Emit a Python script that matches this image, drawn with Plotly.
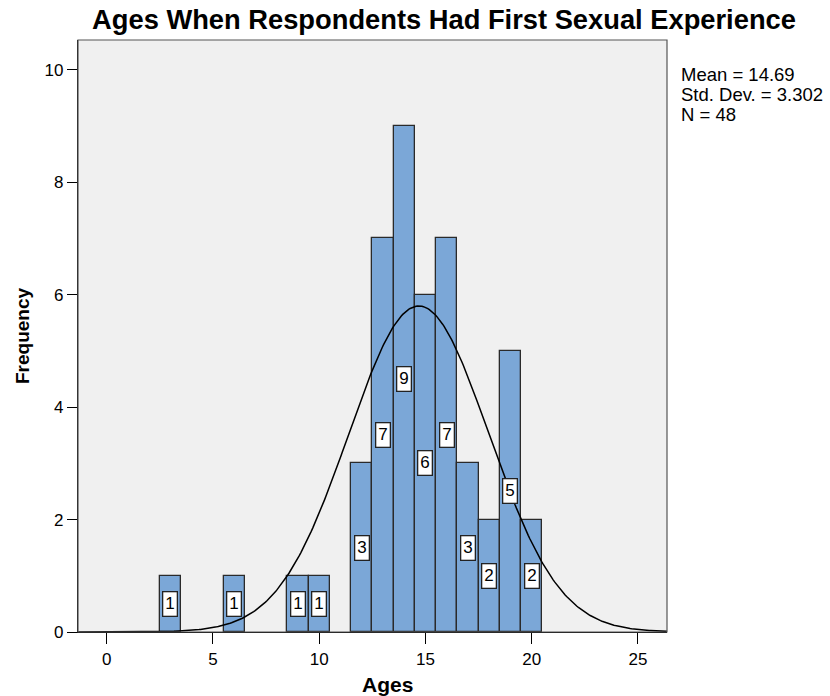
import numpy as np
import plotly.graph_objects as go

ages = [3, 6, 9, 10, 12, 13, 14, 15, 16, 17, 18, 19, 20]
counts = [1, 1, 1, 1, 3, 7, 9, 6, 7, 3, 2, 5, 2]
mean_age = 14.69
std_dev = 3.302
n_total = 48
x_ticks = [0, 5, 10, 15, 20, 25]
y_ticks = [0, 2, 4, 6, 8, 10]
stats_lines = [f"Mean = {mean_age}", f"Std. Dev. = {std_dev}", f"N = {n_total}"]

X0, X1 = -1.35, 26.37
Y0, Y1 = 0, 10.53
FONT = "Liberation Sans, Arial, Helvetica"

W, H = 830, 696
L, R, T, B = 78, 163, 40, 64
PW, PH = W - L - R, H - T - B

def px(xpage):
    return (xpage - L) / PW

def py(ypage):
    return (H - B - ypage) / PH

fig = go.Figure()
fig.add_trace(go.Bar(
    x=ages, y=counts, width=1,
    marker=dict(color="#7BA7D7", line=dict(color="#2a2a2a", width=1.3)),
    hoverinfo="skip", showlegend=False,
))

xc = np.linspace(X0, X1, 400)
yc = n_total * 1.0 / (std_dev * np.sqrt(2 * np.pi)) * np.exp(-0.5 * ((xc - mean_age) / std_dev) ** 2)
fig.add_trace(go.Scatter(x=xc, y=yc, mode="lines",
                         line=dict(color="black", width=1.5),
                         hoverinfo="skip", showlegend=False))

for a, c in zip(ages, counts):
    fig.add_annotation(x=a, y=c / 2, text=str(c), showarrow=False,
                       font=dict(family=FONT, size=17, color="black"),
                       bgcolor="white", bordercolor="#222", borderwidth=1.3,
                       borderpad=2)

for i, line in enumerate(stats_lines):
    fig.add_annotation(xref="paper", yref="paper", x=px(679), y=py(75 + 20 * i),
                       xanchor="left", yanchor="middle", align="left", showarrow=False,
                       text=line, font=dict(family=FONT, size=18.5, color="black"))

fig.add_annotation(xref="paper", yref="paper", x=px(387), y=py(684),
                   xanchor="center", yanchor="middle", showarrow=False,
                   text="<b>Ages</b>", font=dict(family=FONT, size=21, color="black"))
fig.add_annotation(xref="paper", yref="paper", x=px(22), y=0.5, textangle=-90,
                   xanchor="center", yanchor="middle", showarrow=False,
                   text="<b>Frequency</b>", font=dict(family=FONT, size=19, color="black"))

fig.add_shape(type="rect", xref="paper", yref="paper", x0=0, y0=0, x1=1, y1=1,
              line=dict(color="#555", width=1.2), fillcolor="rgba(0,0,0,0)", layer="above")

fig.update_layout(
    width=W, height=H,
    margin=dict(l=L, r=R, t=T, b=B),
    paper_bgcolor="white", plot_bgcolor="#F0F0F0",
    bargap=0,
    title=dict(text="<b>Ages When Respondents Had First Sexual Experience</b>",
               x=444 / W, xanchor="center", y=1 - 19 / H, yanchor="middle",
               font=dict(family=FONT, size=27.3, color="black")),
    font=dict(family=FONT, size=17, color="black"),
)
fig.update_xaxes(range=[X0, X1], tickvals=x_ticks, ticks="outside", ticklen=11,
                 tickcolor="black", tickwidth=1.3, showgrid=False, zeroline=False,
                 showline=True, linecolor="black", linewidth=1.3, automargin=False,
                 tickfont=dict(size=17))
fig.update_yaxes(range=[Y0, Y1], tickvals=y_ticks, ticks="outside", ticklen=10,
                 tickcolor="black", tickwidth=1.3, showgrid=False, zeroline=False,
                 showline=True, linecolor="black", linewidth=1.3, automargin=False,
                 tickfont=dict(size=17))

fig.write_html("out.html", config={"displayModeBar": False},
               post_script="document.body.style.margin='0';document.body.style.overflow='hidden';")
